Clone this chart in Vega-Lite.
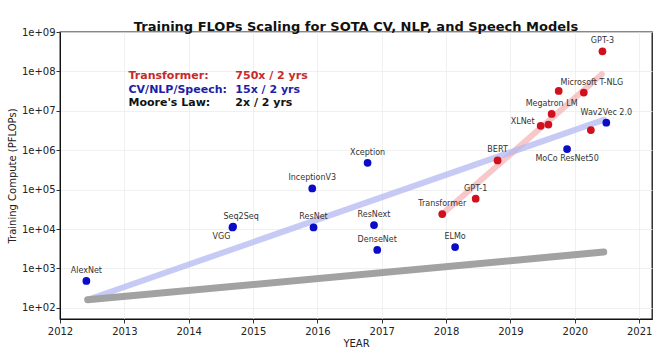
{
  "$schema": "https://vega.github.io/schema/vega-lite/v6.json",
  "width": 592,
  "height": 287,
  "autosize": {"type": "none"},
  "padding": {"left": 60, "top": 32, "right": 8, "bottom": 39},
  "background": "white",
  "config": {
    "font": "DejaVu Sans",
    "view": {"stroke": "#111", "strokeWidth": 1.3},
    "axis": {
      "labelFont": "DejaVu Sans", "titleFont": "DejaVu Sans",
      "labelFontSize": 10, "titleFontSize": 10, "titleFontWeight": "normal",
      "labelColor": "#222", "titleColor": "#222",
      "domainColor": "#111", "tickColor": "#333", "tickSize": 4,
      "gridColor": "#ececec", "gridWidth": 0.8
    }
  },
  "title": {
    "text": "Training FLOPs Scaling for SOTA CV, NLP, and Speech Models",
    "fontSize": 13, "fontWeight": "bold", "font": "DejaVu Sans", "color": "#111",
    "anchor": "middle", "offset": -7
  },
  "datasets": {
    "models": [
      {"model": "AlexNet", "year": 2012.41, "flops": 480, "family": "other", "pos": "t"},
      {"model": "VGG", "year": 2014.68, "flops": 11000, "family": "other", "pos": "bl"},
      {"model": "Seq2Seq", "year": 2014.69, "flops": 11500, "family": "other", "pos": "tr"},
      {"model": "ResNet", "year": 2015.94, "flops": 11000, "family": "other", "pos": "t"},
      {"model": "InceptionV3", "year": 2015.92, "flops": 107000, "family": "other", "pos": "t"},
      {"model": "Xception", "year": 2016.78, "flops": 480000, "family": "other", "pos": "t"},
      {"model": "ResNext", "year": 2016.88, "flops": 12600, "family": "other", "pos": "t"},
      {"model": "DenseNet", "year": 2016.93, "flops": 2950, "family": "other", "pos": "t"},
      {"model": "ELMo", "year": 2018.14, "flops": 3470, "family": "other", "pos": "t"},
      {"model": "Transformer", "year": 2017.94, "flops": 24000, "family": "transformer", "pos": "t"},
      {"model": "GPT-1", "year": 2018.46, "flops": 59000, "family": "transformer", "pos": "t"},
      {"model": "BERT", "year": 2018.8, "flops": 550000, "family": "transformer", "pos": "t"},
      {"model": "MoCo ResNet50", "year": 2019.88, "flops": 1070000, "family": "other", "pos": "b"},
      {"model": "XLNet", "year": 2019.47, "flops": 4170000, "family": "transformer", "pos": "l"},
      {"model": "", "year": 2019.59, "flops": 4470000, "family": "transformer", "pos": "none"},
      {"model": "Megatron LM", "year": 2019.64, "flops": 8300000, "family": "transformer", "pos": "t"},
      {"model": "", "year": 2019.75, "flops": 32000000, "family": "transformer", "pos": "none"},
      {"model": "Microsoft T-NLG", "year": 2020.14, "flops": 29000000, "family": "transformer", "pos": "tr"},
      {"model": "", "year": 2020.25, "flops": 3240000, "family": "transformer", "pos": "none"},
      {"model": "Wav2Vec 2.0", "year": 2020.49, "flops": 5000000, "family": "other", "pos": "t"},
      {"model": "GPT-3", "year": 2020.43, "flops": 324000000, "family": "transformer", "pos": "t"}
    ],
    "trends": [
      {"trend": "CV/NLP/Speech", "year": 2012.43, "flops": 160},
      {"trend": "CV/NLP/Speech", "year": 2020.45, "flops": 5900000},
      {"trend": "Transformer", "year": 2017.94, "flops": 24000},
      {"trend": "Transformer", "year": 2020.42, "flops": 85000000},
      {"trend": "Moore's Law", "year": 2012.43, "flops": 160},
      {"trend": "Moore's Law", "year": 2020.45, "flops": 2600}
    ],
    "notes": [
      {"text": "Transformer:", "year": 2013.065, "flops": 76000000, "series": "Transformer"},
      {"text": "750x / 2 yrs", "year": 2014.725, "flops": 76000000, "series": "Transformer"},
      {"text": "CV/NLP/Speech:", "year": 2013.065, "flops": 34000000, "series": "CV/NLP/Speech"},
      {"text": "15x / 2 yrs", "year": 2014.725, "flops": 34000000, "series": "CV/NLP/Speech"},
      {"text": "Moore's Law:", "year": 2013.065, "flops": 15700000, "series": "Moore's Law"},
      {"text": "2x / 2 yrs", "year": 2014.725, "flops": 15700000, "series": "Moore's Law"}
    ]
  },
  "encoding": {
    "x": {
      "field": "year", "type": "quantitative",
      "scale": {"domain": [2012, 2021.2], "nice": false, "zero": false},
      "axis": {"title": "YEAR", "values": [2012, 2013, 2014, 2015, 2016, 2017, 2018, 2019, 2020, 2021], "format": "d", "labelPadding": 3, "titlePadding": 2, "labelFlush": false}
    },
    "y": {
      "field": "flops", "type": "quantitative",
      "scale": {"type": "log", "domain": [52, 1000000000], "nice": false},
      "axis": {"title": "Training Compute (PFLOPs)", "values": [100, 1000, 10000, 100000, 1000000, 10000000, 100000000, 1000000000],
        "labelExpr": "'1e+0' + round(log(datum.value) / LN10)", "labelPadding": 1, "titlePadding": 4}
    }
  },
  "layer": [
    {
      "data": {"name": "trends"},
      "transform": [{"filter": "datum.trend === 'Transformer'"}],
      "mark": {"type": "line", "strokeWidth": 6, "strokeCap": "round", "color": "#f4b4b8", "opacity": 0.75},
      "encoding": {}
    },
    {
      "data": {"name": "trends"},
      "transform": [{"filter": "datum.trend === 'CV/NLP/Speech'"}],
      "mark": {"type": "line", "strokeWidth": 6, "strokeCap": "round", "color": "#b4b8f2", "opacity": 0.75},
      "encoding": {}
    },
    {
      "data": {"name": "trends"},
      "transform": [{"filter": "datum.trend === \"Moore's Law\""}],
      "mark": {"type": "line", "strokeWidth": 7, "strokeCap": "round", "color": "#a2a2a2"},
      "encoding": {}
    },
    {
      "data": {"name": "models"},
      "mark": {"type": "circle", "size": 60, "opacity": 1},
      "encoding": {
        "color": {"field": "family", "type": "nominal", "scale": {"domain": ["transformer", "other"], "range": ["#d0101c", "#0c0cc8"]}, "legend": null}
      }
    },
    {
      "data": {"name": "models"},
      "transform": [{"filter": "datum.pos === 't'"}],
      "mark": {"type": "text", "fontSize": 8, "color": "#333", "dy": -10, "baseline": "middle", "align": "center"},
      "encoding": {"text": {"field": "model"}}
    },
    {
      "data": {"name": "models"},
      "transform": [{"filter": "datum.pos === 'tr'"}],
      "mark": {"type": "text", "fontSize": 8, "color": "#333", "dy": -10, "dx": 8, "baseline": "middle", "align": "center"},
      "encoding": {"text": {"field": "model"}}
    },
    {
      "data": {"name": "models"},
      "transform": [{"filter": "datum.pos === 'bl'"}],
      "mark": {"type": "text", "fontSize": 8, "color": "#333", "dy": 10, "dx": -11, "baseline": "middle", "align": "center"},
      "encoding": {"text": {"field": "model"}}
    },
    {
      "data": {"name": "models"},
      "transform": [{"filter": "datum.pos === 'b'"}],
      "mark": {"type": "text", "fontSize": 8, "color": "#333", "dy": 10, "baseline": "middle", "align": "center"},
      "encoding": {"text": {"field": "model"}}
    },
    {
      "data": {"name": "models"},
      "transform": [{"filter": "datum.pos === 'l'"}],
      "mark": {"type": "text", "fontSize": 8, "color": "#333", "dy": -4, "dx": -6, "baseline": "middle", "align": "right"},
      "encoding": {"text": {"field": "model"}}
    },
    {
      "data": {"name": "notes"},
      "mark": {"type": "text", "fontSize": 11, "fontWeight": "bold", "align": "left", "baseline": "middle"},
      "encoding": {
        "text": {"field": "text"},
        "color": {"field": "series", "type": "nominal", "scale": {"domain": ["Transformer", "CV/NLP/Speech", "Moore's Law"], "range": ["#c62a2a", "#1e1ea6", "#111111"]}, "legend": null}
      }
    }
  ],
  "resolve": {"scale": {"color": "independent"}}
}
